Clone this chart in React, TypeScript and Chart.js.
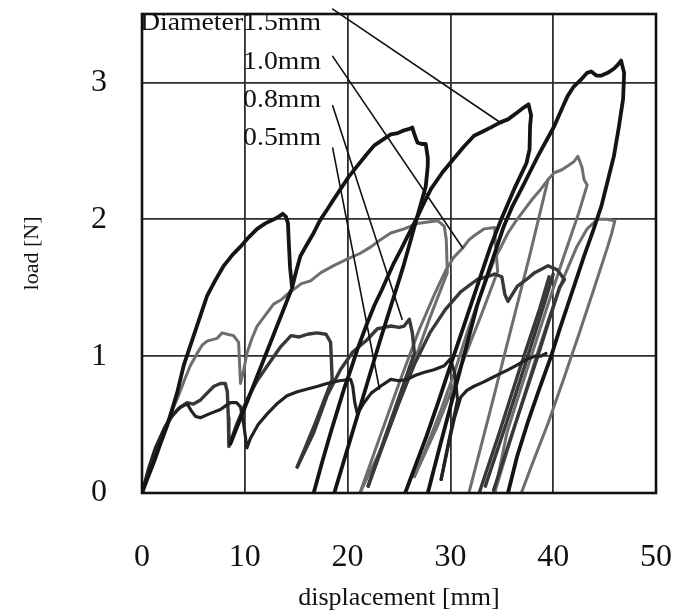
import React, { useEffect, useRef } from "react";
import { Chart, registerables } from "chart.js";

Chart.register(...registerables);

type Pt = [number, number];

const X_MIN = 0;
const X_MAX = 50;
const X_STEP = 10;
const Y_MIN = 0;
const Y_MAX = 3.5;
const Y_STEP = 1;
const X_TITLE = "displacement [mm]";
const Y_TITLE = "load [N]";

// ---- Diameter 1.5 mm (black) ----
const D15_A: Pt[] = [
  [0, 0], [0.5, 0.1], [1.13, 0.22], [1.8, 0.36], [2.44, 0.49], [3.41, 0.73], [4.05, 0.93], [5.03, 1.15],
  [5.7, 1.3], [6.33, 1.44], [7.1, 1.55], [7.95, 1.66], [8.8, 1.74], [9.58, 1.8], [10.4, 1.87], [11.2, 1.93],
  [12.0, 1.97], [12.83, 2.0], [13.3, 2.02], [13.7, 2.04], [14.0, 2.02], [14.2, 1.97], [14.3, 1.8], [14.4, 1.65],
  [14.6, 1.5], [15.0, 1.62], [15.4, 1.73], [16.0, 1.81], [16.7, 1.9], [17.3, 1.99], [18.0, 2.07], [18.6, 2.14],
  [19.3, 2.22], [20.1, 2.31], [20.95, 2.39], [21.8, 2.47], [22.6, 2.54], [23.4, 2.58], [24.2, 2.62], [24.9, 2.63],
  [25.5, 2.65], [26.0, 2.66], [26.3, 2.67], [26.5, 2.62], [26.8, 2.56], [27.2, 2.55], [27.6, 2.55], [27.8, 2.45],
  [27.8, 2.39], [27.6, 2.24], [25.4, 1.65], [23.1, 1.1], [20.9, 0.55], [18.7, 0],
];
const D15_B: Pt[] = [[14.5, 1.48], [12.5, 1.1], [10.5, 0.72], [8.6, 0.36]];
const D15_C: Pt[] = [
  [16.7, 0], [17.5, 0.22], [18.35, 0.44], [19.0, 0.6], [19.65, 0.76], [20.3, 0.9], [20.95, 1.05], [21.8, 1.22],
  [22.6, 1.37], [23.3, 1.48], [23.9, 1.58], [24.5, 1.68], [25.2, 1.78], [26.0, 1.9], [26.8, 2.02], [27.5, 2.13],
  [28.1, 2.22], [29.2, 2.34], [30.3, 2.44], [31.3, 2.53], [32.3, 2.61], [33.1, 2.64], [33.9, 2.67], [34.9, 2.71],
  [35.6, 2.73], [36.5, 2.78], [37.2, 2.82], [37.6, 2.84], [37.85, 2.76], [37.75, 2.68], [37.7, 2.51], [37.4, 2.41],
  [36.2, 2.22], [35.0, 2.01], [33.9, 1.8], [32.6, 1.51], [31.3, 1.22], [30.0, 0.93], [28.8, 0.66], [27.6, 0.4],
  [25.6, 0],
];
const D15_D: Pt[] = [
  [27.8, 0], [28.9, 0.32], [30.0, 0.63], [31.3, 1.0], [32.6, 1.37], [33.9, 1.66], [35.2, 1.95], [36.0, 2.09],
  [36.9, 2.22], [37.7, 2.34], [38.5, 2.46], [39.3, 2.57], [40.1, 2.68], [40.8, 2.8], [41.4, 2.9], [42.0, 2.97],
  [42.7, 3.02], [43.3, 3.07], [43.7, 3.08], [44.2, 3.05], [44.7, 3.05], [45.3, 3.07], [45.9, 3.1], [46.3, 3.13],
  [46.6, 3.16], [46.9, 3.07], [46.8, 2.88], [46.4, 2.68], [45.9, 2.46], [45.3, 2.28], [44.7, 2.1], [43.9, 1.92],
  [43.0, 1.73], [42.2, 1.55], [41.4, 1.37], [40.6, 1.19], [39.8, 1.0], [38.6, 0.75], [37.5, 0.51], [36.5, 0.27],
  [35.6, 0],
];

// ---- Diameter 1.0 mm (grey) ----
const D10_A: Pt[] = [
  [0, 0], [1.0, 0.22], [2.0, 0.43], [2.8, 0.58], [3.5, 0.7], [4.1, 0.82], [4.7, 0.93], [5.36, 1.02], [5.85, 1.08],
  [6.33, 1.11], [7.3, 1.13], [7.8, 1.17], [8.3, 1.16], [8.9, 1.15], [9.4, 1.1], [9.5, 0.93], [9.58, 0.8],
  [9.9, 0.9], [10.2, 1.02], [10.7, 1.13], [11.2, 1.22], [12.2, 1.32], [12.8, 1.38], [13.5, 1.41], [14.1, 1.45],
  [14.8, 1.49], [15.5, 1.53], [16.4, 1.55], [17.4, 1.61], [18.6, 1.66], [20.0, 1.71], [21.2, 1.75], [22.3, 1.8],
  [23.2, 1.85], [24.2, 1.9], [25.5, 1.93], [26.8, 1.97], [27.8, 1.98], [28.75, 1.99], [29.4, 1.95], [29.6, 1.85],
  [29.7, 1.61], [28.1, 1.3], [25.8, 0.82], [23.5, 0.36], [21.2, 0],
];
const D10_B: Pt[] = [
  [21.2, 0], [23.0, 0.38], [25.0, 0.8], [27.0, 1.2], [28.5, 1.46], [29.5, 1.62], [30.3, 1.72], [31.2, 1.79],
  [31.8, 1.85], [32.3, 1.88], [33.3, 1.93], [34.3, 1.94], [34.4, 1.8], [34.6, 1.62], [33.0, 1.3], [31.0, 0.92],
  [28.8, 0.5], [26.5, 0.12],
];
const D10_C: Pt[] = [
  [26.5, 0.12], [27.8, 0.36], [29.1, 0.61], [30.4, 0.88], [31.7, 1.19], [33.0, 1.46], [34.3, 1.71], [35.0, 1.81],
  [35.6, 1.9], [36.4, 1.99], [37.2, 2.07], [38.0, 2.15], [38.8, 2.22], [39.5, 2.29], [40.1, 2.34], [40.8, 2.36],
  [41.4, 2.39], [42.0, 2.42], [42.4, 2.46], [42.8, 2.38], [43.0, 2.29], [43.3, 2.25], [42.5, 2.05], [41.0, 1.72],
  [39.5, 1.38], [38.0, 1.03], [36.5, 0.68], [35.5, 0.44], [34.3, 0],
];
const D10_D: Pt[] = [
  [34.3, 0], [35.5, 0.3], [36.8, 0.62], [38.2, 0.96], [39.6, 1.28], [41.0, 1.57], [42.3, 1.8], [43.3, 1.93],
  [44.3, 2.0], [45.2, 2.0], [46.0, 1.99], [45.7, 1.9], [45.3, 1.8], [44.0, 1.5], [42.5, 1.16], [41.0, 0.83],
  [39.5, 0.51], [37.9, 0.2], [36.9, 0],
];
const D10_E: Pt[] = [[31.8, 0], [33.8, 0.58], [35.8, 1.17], [37.7, 1.73], [39.5, 2.29]];

// ---- Diameter 0.8 mm (dark grey) ----
const D08_A: Pt[] = [
  [0, 0], [0.9, 0.22], [1.9, 0.42], [2.8, 0.55], [3.6, 0.62], [4.4, 0.66], [5.0, 0.65], [5.7, 0.68], [6.33, 0.73],
  [7.0, 0.78], [7.63, 0.8], [8.1, 0.8], [8.3, 0.74], [8.4, 0.55], [8.45, 0.34], [9.2, 0.5], [10.2, 0.68],
  [11.2, 0.82], [12.2, 0.93], [13.5, 1.07], [14.5, 1.15], [15.3, 1.14], [16.1, 1.16], [17.0, 1.17], [17.9, 1.16],
  [18.35, 1.1], [18.5, 0.83], [16.8, 0.5], [15.1, 0.19],
];
const D08_B: Pt[] = [
  [15.1, 0.19], [16.7, 0.44], [18.0, 0.71], [19.3, 0.9], [20.5, 1.03], [21.9, 1.12], [22.9, 1.2], [23.6, 1.21],
  [24.2, 1.22], [25.0, 1.21], [25.5, 1.22], [26.0, 1.27], [26.3, 1.17], [26.5, 1.02], [25.0, 0.7], [23.6, 0.4],
  [22.0, 0.05],
];
const D08_C: Pt[] = [
  [22.0, 0.05], [23.5, 0.36], [25.0, 0.66], [26.5, 0.94], [28.0, 1.17], [29.5, 1.34], [31.0, 1.47], [32.6, 1.56],
  [33.5, 1.58], [34.3, 1.6], [35.0, 1.58], [35.3, 1.45], [35.6, 1.4], [36.5, 1.51], [37.4, 1.56], [38.2, 1.61],
  [39.5, 1.66], [40.4, 1.63], [41.1, 1.56], [40.6, 1.5], [38.5, 1.0], [36.3, 0.5], [34.2, 0.02],
];
const D08_D: Pt[] = [[32.8, 0], [34.8, 0.45], [36.8, 0.92], [38.7, 1.35], [39.6, 1.58]];
const D08_E: Pt[] = [[33.4, 0.05], [35.4, 0.5], [37.4, 0.97], [39.2, 1.4], [40.0, 1.6]];

// ---- Diameter 0.5 mm (near black) ----
const D05_A: Pt[] = [
  [0, 0], [0.6, 0.17], [1.3, 0.33], [2.2, 0.48], [3.08, 0.58], [3.8, 0.63], [4.4, 0.65], [4.8, 0.6], [5.2, 0.56],
  [5.68, 0.55], [6.6, 0.58], [7.63, 0.61], [8.2, 0.64], [8.6, 0.66], [9.2, 0.66], [9.58, 0.63], [9.9, 0.5],
  [10.2, 0.33], [10.55, 0.4], [11.3, 0.5], [12.2, 0.58], [13.1, 0.65], [14.1, 0.71], [15.1, 0.74], [16.1, 0.76],
  [17.1, 0.78], [18.0, 0.8], [19.2, 0.82], [20.3, 0.83], [20.5, 0.78], [20.7, 0.66], [20.95, 0.58], [21.6, 0.66],
  [22.3, 0.73], [23.2, 0.78], [24.2, 0.83], [25.0, 0.82], [25.8, 0.83], [26.6, 0.86], [27.4, 0.88], [28.4, 0.9],
  [29.4, 0.93], [30.0, 0.98], [30.4, 0.88], [30.7, 0.68], [29.9, 0.4], [29.1, 0.1],
];
const D05_B: Pt[] = [
  [29.1, 0.1], [29.8, 0.35], [30.4, 0.55], [31.0, 0.7], [31.6, 0.75], [32.3, 0.78], [33.2, 0.81], [34.0, 0.84],
  [34.8, 0.87], [35.6, 0.9], [36.6, 0.94], [37.5, 0.98], [38.2, 1.0], [38.8, 1.0], [39.3, 1.02],
];

// ---- annotations ----
const LABELS = ["Diameter1.5mm", "1.0mm", "0.8mm", "0.5mm"];
const LABEL_RIGHT_X = 17.41;
const LABEL_BASE_Y = [3.386, 3.097, 2.824, 2.543];
const LEADER_FROM: Pt[] = [[18.55, 3.535], [18.55, 3.19], [18.55, 2.83], [18.55, 2.52]];
const LEADER_TO: Pt[] = [[35.0, 2.7], [31.2, 1.79], [25.3, 1.27], [23.1, 0.76]];

const SERIES = [
  { segments: [D15_A, D15_B, D15_C, D15_D], color: "#141414", width: 3.8 },
  { segments: [D05_A, D05_B], color: "#222222", width: 3.2 },
  { segments: [D08_A, D08_B, D08_C, D08_D, D08_E], color: "#383838", width: 3.4 },
  { segments: [D10_A, D10_B, D10_C, D10_D, D10_E], color: "#6e6e6e", width: 3.0 },
];

const FONT = '"Liberation Serif", "Times New Roman", serif';

const overlay = {
  id: "overlay",
  afterDatasetsDraw(chart: any) {
    const { ctx, chartArea: a, scales } = chart;
    const xs = scales.x;
    const ys = scales.y;
    ctx.save();
    ctx.strokeStyle = "#111";
    ctx.lineWidth = 2.6;
    ctx.strokeRect(a.left, a.top, a.right - a.left, a.bottom - a.top);
    ctx.lineWidth = 1.6;
    ctx.lineCap = "round";
    for (let i = 0; i < LEADER_FROM.length; i++) {
      ctx.beginPath();
      ctx.moveTo(xs.getPixelForValue(LEADER_FROM[i][0]), ys.getPixelForValue(LEADER_FROM[i][1]));
      ctx.lineTo(xs.getPixelForValue(LEADER_TO[i][0]), ys.getPixelForValue(LEADER_TO[i][1]));
      ctx.stroke();
    }
    ctx.font = `25px ${FONT}`;
    ctx.fillStyle = "#111";
    ctx.textAlign = "right";
    ctx.textBaseline = "alphabetic";
    LABELS.forEach((t, i) => {
      ctx.save();
      ctx.translate(xs.getPixelForValue(LABEL_RIGHT_X), ys.getPixelForValue(LABEL_BASE_Y[i]));
      ctx.scale(1.11, 1);
      ctx.fillText(t, 0, 0);
      ctx.restore();
    });
    ctx.restore();
  },
};

const zeroPad = (s: any) => {
  s.paddingTop = 0;
  s.paddingBottom = 0;
  s.paddingLeft = 0;
  s.paddingRight = 0;
};

export default function App() {
  const ref = useRef<HTMLCanvasElement>(null);
  useEffect(() => {
    const canvas = ref.current;
    if (!canvas) return;
    const datasets: any[] = [];
    SERIES.forEach((s) => {
      s.segments.forEach((seg) => {
        datasets.push({
          data: seg.map(([x, y]) => ({ x, y })),
          borderColor: s.color,
          backgroundColor: s.color,
          borderWidth: s.width,
          pointRadius: 0,
          tension: 0,
          fill: false,
          borderJoinStyle: "round",
          borderCapStyle: "round",
        });
      });
    });
    const chart = new Chart(canvas, {
      type: "line",
      data: { datasets },
      options: {
        responsive: false,
        animation: false,
        events: [],
        layout: { padding: { top: 14, right: 20, left: 0, bottom: 0 } },
        plugins: { legend: { display: false }, tooltip: { enabled: false } },
        scales: {
          x: {
            type: "linear",
            min: X_MIN,
            max: X_MAX,
            ticks: { stepSize: X_STEP, padding: 45, color: "#111", font: { family: FONT, size: 32 } },
            grid: { color: "#2e2e2e", lineWidth: 1.8, drawTicks: false },
            border: { display: false },
            title: { display: true, text: X_TITLE, color: "#111", font: { family: FONT, size: 26 }, padding: { top: 0, bottom: 2 } },
            afterFit: (s: any) => { s.height = 123; zeroPad(s); },
          },
          y: {
            type: "linear",
            min: Y_MIN,
            max: Y_MAX,
            ticks: { stepSize: Y_STEP, padding: 35, color: "#111", font: { family: FONT, size: 32 } },
            afterBuildTicks: (s: any) => { s.ticks = s.ticks.filter((t: any) => Number.isInteger(t.value)); },
            grid: { color: "#2e2e2e", lineWidth: 1.8, drawTicks: false },
            border: { display: false },
            title: { display: true, text: Y_TITLE, color: "#111", font: { family: FONT, size: 22 }, padding: { top: 19, bottom: 0 } },
            afterFit: (s: any) => { s.width = 142; zeroPad(s); },
          },
        },
      } as any,
      plugins: [overlay],
    });
    return () => chart.destroy();
  }, []);
  return (
    <div style={{ position: "fixed", left: 0, top: 0, width: 676, height: 616, background: "#fff" }}>
      <canvas ref={ref} width={676} height={616} style={{ display: "block", width: 676, height: 616 }} />
    </div>
  );
}
